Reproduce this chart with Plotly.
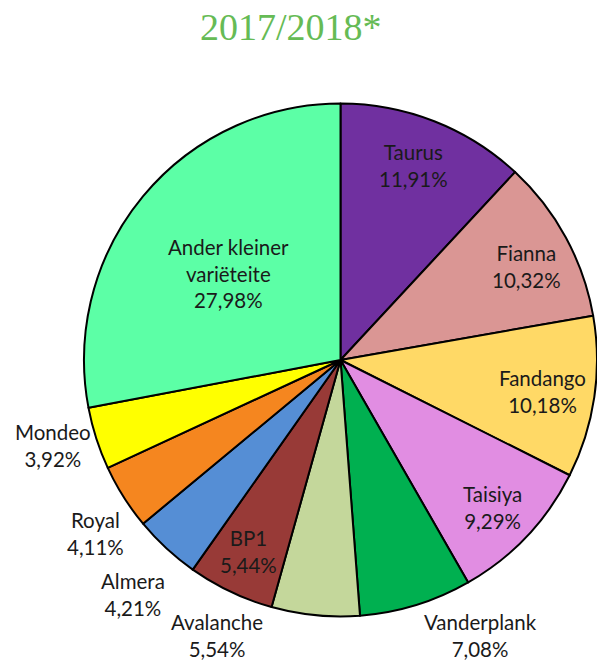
import plotly.graph_objects as go

W, H = 597, 661

categories = ["Taurus", "Fianna", "Fandango", "Taisiya", "Vanderplank", "Avalanche",
              "BP1", "Almera", "Royal", "Mondeo", "Ander kleiner variëteite"]
shares = [11.91, 10.32, 10.18, 9.29, 7.08, 5.54, 5.44, 4.21, 4.11, 3.92, 27.98]
colors = ["#7030A0", "#DA9694", "#FFD966", "#E18DE2", "#00B050", "#C4D79B",
          "#983A37", "#558ED5", "#F5861F", "#FFFF00", "#5CFFA6"]
title_text = "2017/2018*"

# label block centres in pixels (layout only)
label_pos = [(413, 165), (526, 267), (542, 391), (492, 507), (480, 635), (217, 635),
             (249, 551), (133, 594), (95, 533), (53, 445), (228, 273)]


def fmt(name, v):
    name = name.replace("Ander kleiner ", "Ander kleiner<br>")
    return f"{name}<br>{v:.2f}".replace(".", ",") + "%"


cx, cy, r = 341, 360, 257

fig = go.Figure(go.Pie(
    labels=categories,
    values=shares,
    sort=False,
    direction="clockwise",
    rotation=0,
    textinfo="none",
    hoverinfo="label+percent",
    marker=dict(colors=colors, line=dict(color="#000000", width=2)),
    domain=dict(x=[(cx - r) / W, min(1.0, (cx + r) / W)],
                y=[1 - (cy + r) / H, 1 - (cy - r) / H]),
    showlegend=False,
))

annotations = []
for name, v, (px, py) in zip(categories, shares, label_pos):
    annotations.append(dict(
        x=px / W, y=1 - py / H, xref="paper", yref="paper",
        xanchor="center", yanchor="middle", showarrow=False,
        text=fmt(name, v), align="center", borderpad=0,
        font=dict(family="Lato", size=20.5, color="#1a1a1a"),
    ))
annotations.append(dict(
    x=291 / W, y=1 - 27 / H, xref="paper", yref="paper",
    xanchor="center", yanchor="middle", showarrow=False,
    text=title_text, borderpad=0,
    font=dict(family="Liberation Serif", size=38, color="#66BB55"),
))

fig.update_layout(
    width=W, height=H,
    margin=dict(l=0, r=0, t=0, b=0),
    paper_bgcolor="white", plot_bgcolor="white",
    annotations=annotations,
)

fig.write_html("out.html", config={"displayModeBar": False},
               post_script="document.body.style.margin='0';document.body.style.overflow='hidden';")
